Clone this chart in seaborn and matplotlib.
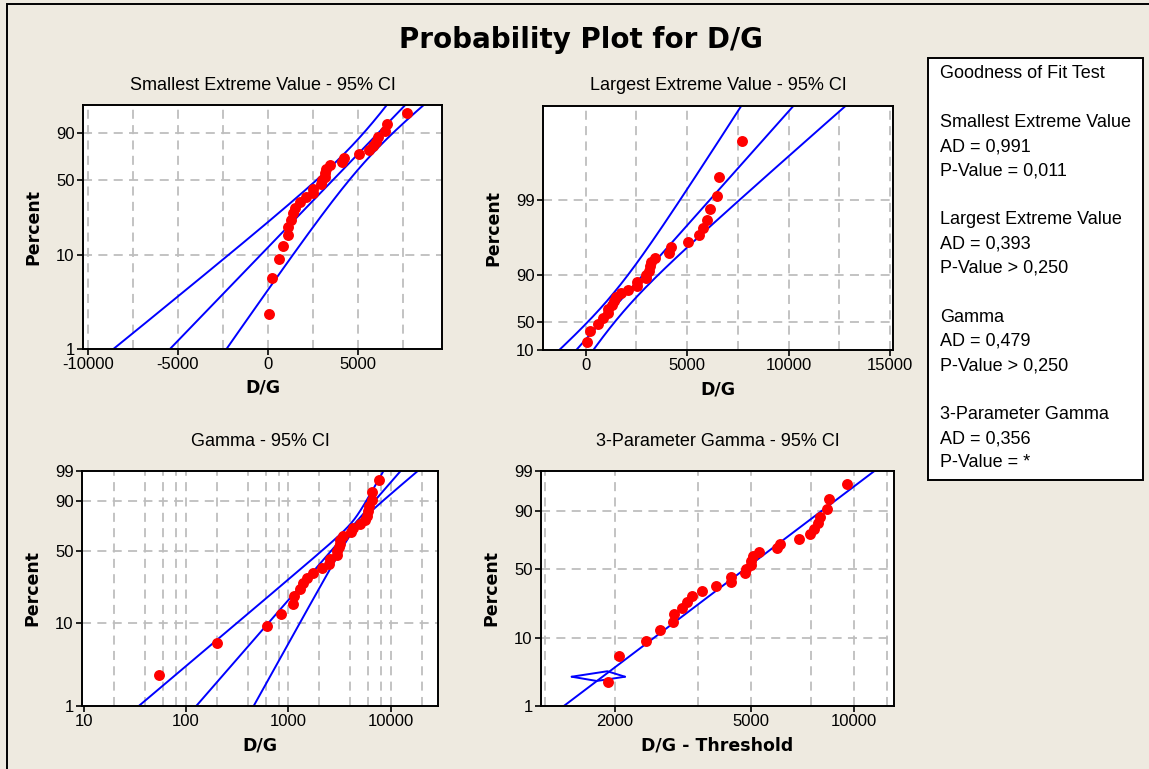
import numpy as np
import pandas as pd
import matplotlib
matplotlib.use("Agg")
import matplotlib.pyplot as plt
from matplotlib.patches import Rectangle
from matplotlib.ticker import FixedLocator, FixedFormatter, NullFormatter
import seaborn as sns
from math import lgamma, exp, log

# ---- data ----
dg_values = [55, 200, 620, 850, 1110, 1120, 1290, 1400, 1520, 1750, 2110, 2510,
             2520, 2960, 2980, 3140, 3160, 3200, 3420, 4110, 4230, 5040, 5610,
             5800, 6000, 6110, 6490, 6590, 7720]

# fitted parameters
sev_loc, sev_scale = 4360, 2130
lev_loc, lev_scale = 2207, 1746
gam_shape, gam_scale = 1.5, 2190
gam3_shape, gam3_scale, gam3_threshold = 5.5, 928, -1850
z95 = 1.96
# variance coefficients of the percentile estimate (A, B, C)
sev_ci = (1.109, -0.257, 0.608)
lev_ci = (1.109, 0.257, 0.608)
# gamma: half width of the band in log units, squared = A + 2Bu + Cu^2
gam_ci = (0.0726, -0.0917, 0.1307)

# odd little CI artefact in the 3-parameter panel (D/G - Threshold, percent)
glitch_top_x = [1494, 1899, 2139]
glitch_top_pct = [2.9, 3.5, 2.9]
glitch_bot_x = [1494, 1768, 2000, 2139]
glitch_bot_pct = [2.9, 2.5, 2.75, 2.9]

sev_xticks = [-10000, -5000, 0, 5000]
sev_xgrid = [-10000, -7500, -5000, -2500, 0, 2500, 5000, 7500]
lev_xticks = [0, 5000, 10000, 15000]
lev_xgrid = [0, 2500, 5000, 7500, 10000, 12500, 15000]
gam_xticks = [10, 100, 1000, 10000]
gam_xgrid = [20, 40, 60, 80, 100, 200, 400, 600, 800, 1000, 2000, 4000, 6000,
             8000, 10000, 20000]
gam3_xticks = [2000, 5000, 10000]
gam3_xgrid = [1250, 2000, 3500, 5000, 7500, 10000, 12500]

pct_ticks = [1, 10, 50, 90, 99]
lev_pct_ticks = [1, 10, 50, 90]
lev_pct_labels = ["10", "50", "90", "99"]   # as printed on the original

fit_text = ["Goodness of Fit Test", "",
            "Smallest Extreme Value", "AD = 0,991", "P-Value = 0,011", "",
            "Largest Extreme Value", "AD = 0,393", "P-Value > 0,250", "",
            "Gamma", "AD = 0,479", "P-Value > 0,250", "",
            "3-Parameter Gamma", "AD = 0,356", "P-Value = *"]

BG = "#EEEAE0"
BLUE = "#0000FF"
RED = "#FF0000"
GRID = "#BEBEBE"
BOLD = ["DejaVu Sans"]


def gammainc_p(a, x):
    if x <= 0:
        return 0.0
    front = -x + a * log(x) - lgamma(a)
    if x < a + 1:
        ap, s = a, 1.0 / a
        d = s
        for _ in range(1000):
            ap += 1
            d *= x / ap
            s += d
            if abs(d) < abs(s) * 1e-15:
                break
        return s * exp(front)
    b = x + 1 - a
    c = 1e300
    d = 1 / b
    h = d
    for i in range(1, 1000):
        an = -i * (i - a)
        b += 2
        d = an * d + b
        d = d if abs(d) > 1e-300 else 1e-300
        c = b + an / c
        c = c if abs(c) > 1e-300 else 1e-300
        d = 1 / d
        dl = d * c
        h *= dl
        if abs(dl - 1) < 1e-15:
            break
    return 1 - exp(front) * h


def gamma_scale(k):
    u = np.linspace(-14, 4, 4000)
    P = np.array([gammainc_p(k, np.exp(v)) for v in u])
    keep = (P > 1e-13) & (P < 1 - 1e-13)
    u, P = u[keep], P[keep]
    lg = np.log(P / (1 - P))

    def fwd(p):
        p = np.asarray(p, float) / 100
        with np.errstate(all="ignore"):
            out = np.interp(np.log(p / (1 - p)), lg, u)
        return np.where((p > 0) & (p < 1), out, np.nan)

    def inv(v):
        return 100 * np.interp(v, u, P)
    return fwd, inv


def sev_fwd(p):
    with np.errstate(all="ignore"):
        return np.log(-np.log1p(-np.asarray(p, float) / 100))


def sev_inv(w):
    return 100 * (1 - np.exp(-np.exp(w)))


def lev_fwd(p):
    with np.errstate(all="ignore"):
        return -np.log(-np.log(np.asarray(p, float) / 100))


def lev_inv(w):
    return 100 * np.exp(-np.exp(-w))


def ci_half(coef, w):
    a, b, c = coef
    return np.sqrt(a + 2 * b * w + c * w ** 2)


# plotting positions (median ranks, as Minitab does)
dg = np.sort(np.array(dg_values, float))
n = len(dg)
pct = (np.arange(1, n + 1) - 0.3) / (n + 0.4) * 100
points = pd.DataFrame({"dg": dg, "pct": pct, "dg_thr": dg - gam3_threshold})

plt.rcParams["axes.unicode_minus"] = False
sns.set_style("white")
plt.rcParams["font.family"] = ["Liberation Sans", "DejaVu Sans"]
plt.rcParams["text.color"] = "black"
plt.rcParams["axes.labelcolor"] = "black"

W, H = 1149, 769
fig = plt.figure(figsize=(W / 100, H / 100), dpi=100, facecolor=BG)


def px_axes(l, t, r, b):
    return fig.add_axes([l / W, 1 - b / H, (r - l) / W, (b - t) / H])


def draw_line(ax, x, p, **kw):
    df = pd.DataFrame({"x": x, "p": p})
    sns.lineplot(data=df, x="x", y="p", ax=ax, sort=False, estimator=None,
                 color=BLUE, lw=1.4, **kw)


def style_axes(ax, xticks, xgrid, yticks, ylabels, ygrid, xlabel, title,
               title_y):
    ax.set_facecolor("white")
    for s in ax.spines.values():
        s.set_color("black")
        s.set_linewidth(1.4)
    ax.xaxis.set_major_locator(FixedLocator(xticks))
    ax.xaxis.set_major_formatter(FixedFormatter([str(v) for v in xticks]))
    ax.xaxis.set_minor_locator(FixedLocator([]))
    ax.xaxis.set_minor_formatter(NullFormatter())
    ax.yaxis.set_major_locator(FixedLocator(yticks))
    ax.yaxis.set_major_formatter(FixedFormatter(ylabels))
    ax.yaxis.set_minor_locator(FixedLocator([]))
    ax.tick_params(axis="both", direction="out", length=4, width=1.2,
                   labelsize=12, colors="black", pad=2,
                   bottom=True, left=True)
    for g in xgrid:
        ax.axvline(g, color=GRID, lw=1.3, ls=(0, (5, 3.5)), zorder=0.5)
    for g in ygrid:
        ax.axhline(g, color=GRID, lw=1.3, ls=(0, (5, 3.5)), zorder=0.5)
    ax.set_xlabel(xlabel, fontsize=12.5, fontweight="bold", family=BOLD)
    ax.set_ylabel("Percent", fontsize=12.5, fontweight="bold", family=BOLD)
    bb = ax.get_position()
    ax.xaxis.set_label_coords(0.5, -30 / (bb.height * H))
    ax.yaxis.set_label_coords(-41 / (bb.width * W), 0.5)
    fig.text(bb.x0 + bb.width / 2, 1 - title_y / H, title, ha="center",
             va="center", fontsize=13)


def scatter(ax, xcol):
    sns.scatterplot(data=points, x=xcol, y="pct", ax=ax, color=RED, s=62,
                    linewidth=0, zorder=5, legend=False)


# ---- Smallest extreme value ----
ax1 = px_axes(83, 105, 442, 349)
ax1.set_yscale("function", functions=(sev_fwd, sev_inv))
w = np.linspace(sev_fwd(0.3), sev_fwd(99.7), 300)
xfit = sev_loc + sev_scale * w
hw = z95 * sev_scale / np.sqrt(n) * ci_half(sev_ci, w)
for xx in (xfit - hw, xfit, xfit + hw):
    draw_line(ax1, xx, sev_inv(w))
scatter(ax1, "dg")
ax1.set_xlim(-10260, 9650)
ax1.set_ylim(1, 99)
style_axes(ax1, sev_xticks, sev_xgrid, [1, 10, 50, 90],
           ["1", "10", "50", "90"], [10, 50, 90], "D/G",
           "Smallest Extreme Value - 95% CI", 86)

# ---- Largest extreme value ----
ax2 = px_axes(543, 106, 893, 350)
ax2.set_yscale("function", functions=(lev_fwd, lev_inv))
w = np.linspace(lev_fwd(0.3), lev_fwd(99.7), 300)
xfit = lev_loc + lev_scale * w
hw = z95 * lev_scale / np.sqrt(n) * ci_half(lev_ci, w)
for xx in (xfit - hw, xfit, xfit + hw):
    draw_line(ax2, xx, lev_inv(w))
scatter(ax2, "dg")
ax2.set_xlim(-2100, 15150)
ax2.set_ylim(1, 99)
style_axes(ax2, lev_xticks, lev_xgrid, lev_pct_ticks, lev_pct_labels,
           [10, 50, 90], "D/G", "Largest Extreme Value - 95% CI", 86)

# ---- Gamma ----
gfwd, ginv = gamma_scale(gam_shape)
ax3 = px_axes(82, 471, 438, 706)
ax3.set_xscale("log")
ax3.set_yscale("function", functions=(gfwd, ginv))
u = np.linspace(gfwd(0.3), gfwd(99.7), 300)
lx = np.log(gam_scale) + u
hw = ci_half(gam_ci, u)
for xx in (lx - hw, lx, lx + hw):
    draw_line(ax3, np.exp(xx), ginv(u))
scatter(ax3, "dg")
ax3.set_xscale("log")
ax3.set_xlim(9.65, 28800)
ax3.set_ylim(1, 99)
style_axes(ax3, gam_xticks, gam_xgrid, pct_ticks,
           [str(v) for v in pct_ticks], [10, 50, 90], "D/G",
           "Gamma - 95% CI", 441)

# ---- 3-parameter gamma ----
g3fwd, g3inv = gamma_scale(gam3_shape)
ax4 = px_axes(541, 471, 894, 706)
ax4.set_xscale("log")
ax4.set_yscale("function", functions=(g3fwd, g3inv))
u = np.linspace(g3fwd(0.3), g3fwd(99.7), 300)
draw_line(ax4, np.exp(np.log(gam3_scale) + u), g3inv(u))
draw_line(ax4, glitch_top_x, glitch_top_pct)
draw_line(ax4, glitch_bot_x, glitch_bot_pct)
scatter(ax4, "dg_thr")
ax4.set_xscale("log")
ax4.set_xlim(1215, 13090)
ax4.set_ylim(1, 99)
style_axes(ax4, gam3_xticks, gam3_xgrid, pct_ticks,
           [str(v) for v in pct_ticks], [10, 50, 90],
           "D/G - Threshold", "3-Parameter Gamma - 95% CI", 441)

# ---- title, goodness-of-fit box, outer frame ----
fig.text(581 / W, 1 - 40 / H, "Probability Plot for D/G", ha="center",
         va="center", fontsize=20, fontweight="bold", family=BOLD)
fig.patches.append(Rectangle((928 / W, 1 - 480 / H), 215 / W, 422 / H,
                             transform=fig.transFigure, facecolor="white",
                             edgecolor="black", lw=1.4))
for i, line in enumerate(fit_text):
    fig.text(940 / W, 1 - (74 + i * 24.3) / H, line, ha="left", va="center",
             fontsize=13)
fig.patches.append(Rectangle((7 / W, -0.1), 1.2, 1.1 - 4 / H,
                             transform=fig.transFigure, facecolor="none",
                             edgecolor="black", lw=1.4))

fig.savefig("out.png", dpi=100, facecolor=BG)
